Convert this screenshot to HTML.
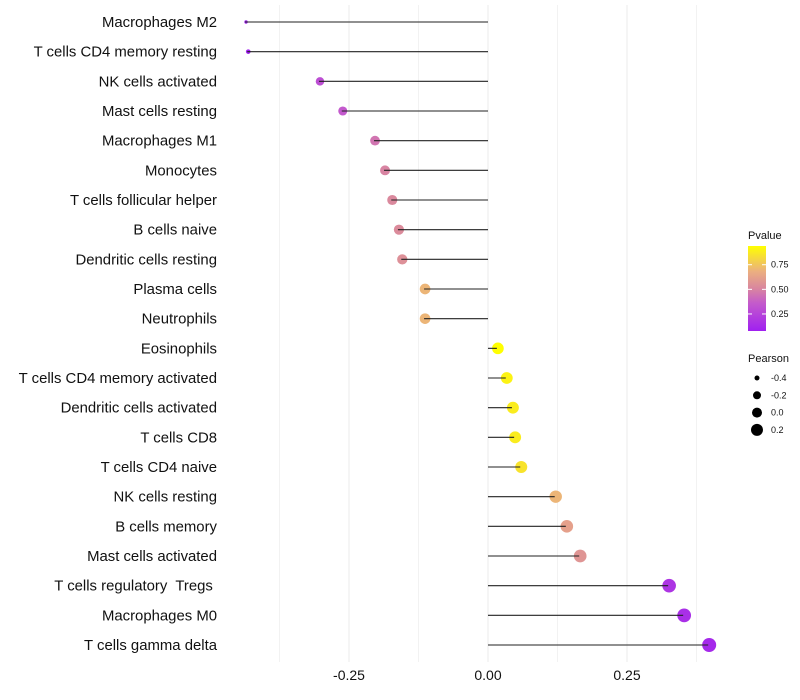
<!DOCTYPE html>
<html><head><meta charset="utf-8"><style>
body{margin:0;background:#fff;font-family:"Liberation Sans",sans-serif;}
</style></head><body>
<svg id="chart" width="800" height="700" style="display:block">
<g id="grid"></g><g id="dots"></g><g id="marks"></g><g id="labels"></g><g id="legend"></g>
</svg>
<script>
const categories=["Macrophages M2","T cells CD4 memory resting","NK cells activated","Mast cells resting","Macrophages M1","Monocytes","T cells follicular helper","B cells naive","Dendritic cells resting","Plasma cells","Neutrophils","Eosinophils","T cells CD4 memory activated","Dendritic cells activated","T cells CD8","T cells CD4 naive","NK cells resting","B cells memory","Mast cells activated","T cells regulatory  Tregs ","Macrophages M0","T cells gamma delta"];
const pearson=[-0.437,-0.433,-0.304,-0.263,-0.205,-0.187,-0.174,-0.162,-0.156,-0.115,-0.115,0.016,0.032,0.043,0.047,0.058,0.120,0.140,0.164,0.324,0.351,0.396];
const pvalue=[0.08,0.08,0.3,0.35,0.45,0.5,0.52,0.53,0.55,0.7,0.7,0.94,0.9,0.88,0.88,0.85,0.7,0.62,0.57,0.18,0.15,0.12];
const xTicks=[-0.25,0,0.25];
const xTickLabels=["-0.25","0.00","0.25"];
const xMinor=[-0.375,-0.125,0.125,0.375];
const pTicks=[0.25,0.5,0.75];
const sizeTicks=[-0.4,-0.2,0.0,0.2];
const sizeTickLabels=["-0.4","-0.2","0.0","0.2"];

const NS="http://www.w3.org/2000/svg";
const x=v=>488+v*556;
const y=i=>22+i*(623/21);
const r=v=>{const t=Math.max(0,Math.min(1,(v+0.437)/(0.396+0.437)));return 1.7+5.3*Math.pow(t,0.4);};
function hex(c){return [parseInt(c.slice(1,3),16),parseInt(c.slice(3,5),16),parseInt(c.slice(5,7),16)];}
const stops=[[0,"#A020F0"],[0.33,"#C45BCB"],[0.5,"#D9869F"],[0.7,"#EBAF80"],[1,"#FFFF00"]];
function col(p){let t=(p-0.077)/(0.94-0.077);t=Math.max(0,Math.min(1,t));
 for(let k=1;k<stops.length;k++){if(t<=stops[k][0]){const a=stops[k-1],b=stops[k];const f=(t-a[0])/(b[0]-a[0]);const A=hex(a[1]),B=hex(b[1]);return "rgb("+A.map((v,j)=>Math.round(v+(B[j]-v)*f)).join(",")+")";}}return "#FFFF00";}
function mk(tag,attrs,parent,text){const e=document.createElementNS(NS,tag);for(const k in attrs)e.setAttribute(k,attrs[k]);if(text!==undefined)e.textContent=text;parent.appendChild(e);return e;}
const grid=document.getElementById('grid'),dots=document.getElementById('dots'),marks=document.getElementById('marks'),labels=document.getElementById('labels'),leg=document.getElementById('legend');
xMinor.forEach(v=>{const l=mk('line',{x1:x(v),x2:x(v),y1:5,y2:662,stroke:'#f2f2f2','stroke-width':1},grid);

});
xTicks.forEach((v,i)=>{const l=mk('line',{x1:x(v),x2:x(v),y1:5,y2:662,stroke:'#ebebeb','stroke-width':1},grid);


const t=mk('text',{x:x(v),y:680,'font-size':14,'text-anchor':'middle',fill:'#111'},labels,xTickLabels[i]);

});
categories.forEach((c,i)=>{
 const d=mk('circle',{cx:x(pearson[i])+1,cy:y(i),r:r(pearson[i]),fill:col(pvalue[i])},dots);
 
 
 const l=mk('line',{x1:x(0),x2:x(pearson[i]),y1:y(i),y2:y(i),stroke:'#222','stroke-width':1.1},marks);
 
 
 const t=mk('text',{x:217,y:y(i)+5,'font-size':14.9,'text-anchor':'end',fill:'#111',style:'white-space:pre'},labels,c);
 
 
});
const lt=mk('text',{x:748,y:239,'font-size':11,fill:'#111'},leg,'Pvalue');


const defs=mk('defs',{},leg);const g=mk('linearGradient',{id:'pg',x1:0,y1:1,x2:0,y2:0},defs);
stops.forEach(s=>mk('stop',{offset:s[0],'stop-color':s[1]},g));
const bar=mk('rect',{x:748,y:246,width:18,height:85,fill:'url(#pg)'},leg);


const py=p=>331-(p-0.077)/(0.94-0.077)*85;
pTicks.forEach(p=>{mk('line',{x1:748,x2:752,y1:py(p),y2:py(p),stroke:'#fff'},leg);mk('line',{x1:762,x2:766,y1:py(p),y2:py(p),stroke:'#fff'},leg);
 const t=mk('text',{x:771,y:py(p)+3,'font-size':9,fill:'#111'},leg,p.toFixed(2));
 
 });
const st=mk('text',{x:748,y:362,'font-size':11,fill:'#111'},leg,'Pearson');


const legR=[2.5,4,5,6];
sizeTicks.forEach((v,i)=>{const cy=378+i*17.3;
 const c=mk('circle',{cx:757,cy:cy,r:legR[i],fill:'#000'},leg);
 
 
 const t=mk('text',{x:771,y:cy+3,'font-size':9,fill:'#111'},leg,sizeTickLabels[i]);
 
 });
</script>
</body></html>
